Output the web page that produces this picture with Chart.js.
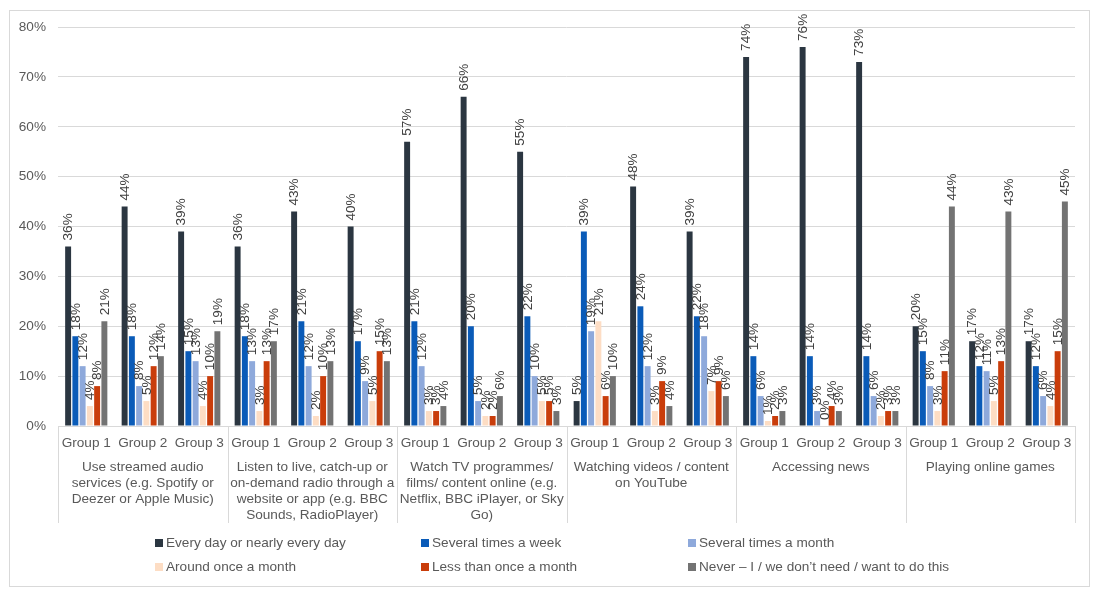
<!DOCTYPE html>
<html>
<head>
<meta charset="utf-8">
<script src="https://cdn.jsdelivr.net/npm/chart.js@4"></script>
<style>
html,body{margin:0;padding:0;background:#fff;}
#wrap{width:1097px;height:594px;position:relative;}
</style>
</head>
<body>
<div id="wrap"><canvas id="c" width="1097" height="594"></canvas></div>
<script>
const groupLabels = ["Group 1", "Group 2", "Group 3"];
const activities = [
  ["Use streamed audio", "services (e.g. Spotify or", "Deezer or Apple Music)"],
  ["Listen to live, catch-up or", "on-demand radio through a", "website or app (e.g. BBC", "Sounds, RadioPlayer)"],
  ["Watch TV programmes/", "films/ content online (e.g.", "Netflix, BBC iPlayer, or Sky", "Go)"],
  ["Watching videos / content", "on YouTube"],
  ["Accessing news"],
  ["Playing online games"]
];
const seriesNames = [
  "Every day or nearly every day",
  "Several times a week",
  "Several times a month",
  "Around once a month",
  "Less than once a month",
  "Never \u2013 I / we don\u2019t need / want to do this"
];
// values per category (activity x group), in order of categories
const everyDay     = [36, 44, 39, 36, 43, 40, 57, 66, 55, 5, 48, 39, 74, 76, 73, 20, 17, 17];
const severalWeek  = [18, 18, 15, 18, 21, 17, 21, 20, 22, 39, 24, 22, 14, 14, 14, 15, 12, 12];
const severalMonth = [12, 8, 13, 13, 12, 9, 12, 5, 10, 19, 12, 18, 6, 3, 6, 8, 11, 6];
const onceMonth    = [4, 5, 4, 3, 2, 5, 3, 2, 5, 21, 3, 7, 1, 0, 2, 3, 5, 4];
const lessMonth    = [8, 12, 10, 13, 10, 15, 3, 2, 5, 6, 9, 9, 2, 4, 3, 11, 13, 15];
const never        = [21, 14, 19, 17, 13, 13, 4, 6, 3, 10, 4, 6, 3, 3, 3, 44, 43, 45];
const yTicks = [0, 10, 20, 30, 40, 50, 60, 70, 80];

const colors = ["#2B3641", "#0A5BB8", "#8EA9DB", "#FDDDC4", "#C93D0B", "#737373"];
const seriesValues = [everyDay, severalWeek, severalMonth, onceMonth, lessMonth, never];

const categories = [];
activities.forEach(() => groupLabels.forEach(g => categories.push(g)));

const FONT = "Liberation Sans, Arial, sans-serif";
const FS = 13.6;
const TXT = "#595959";

const bgPlugin = {
  id: 'bg',
  beforeDraw(chart) {
    const ctx = chart.ctx;
    ctx.save();
    ctx.fillStyle = '#fff';
    ctx.fillRect(0, 0, chart.width, chart.height);
    ctx.strokeStyle = '#d9d9d9';
    ctx.lineWidth = 1;
    ctx.strokeRect(9.5, 10.5, 1080, 576);
    ctx.restore();
  }
};

const decoPlugin = {
  id: 'deco',
  afterDatasetsDraw(chart) {
    const ctx = chart.ctx;
    ctx.save();
    ctx.font = FS + "px " + FONT;
    ctx.fillStyle = "#404040";
    ctx.textAlign = 'left';
    ctx.textBaseline = 'middle';
    chart.data.datasets.forEach((ds, di) => {
      const meta = chart.getDatasetMeta(di);
      meta.data.forEach((bar, i) => {
        const v = ds.data[i];
        ctx.save();
        ctx.translate(bar.x + 0.5, bar.y - 6);
        ctx.rotate(-Math.PI / 2);
        ctx.fillText(Math.round(v) + '%', 0, 0);
        ctx.restore();
      });
    });
    ctx.restore();
  },
  afterDraw(chart) {
    const ctx = chart.ctx;
    const xs = chart.scales.x;
    const area = chart.chartArea;
    ctx.save();
    ctx.strokeStyle = '#d9d9d9';
    ctx.lineWidth = 1;
    const bounds = [area.left];
    for (let g = 1; g < activities.length; g++) {
      const i = g * 3;
      bounds.push((xs.getPixelForValue(i - 1) + xs.getPixelForValue(i)) / 2);
    }
    bounds.push(area.right);
    bounds.forEach(b => {
      const x = Math.round(b) + 0.5;
      ctx.beginPath();
      ctx.moveTo(x, area.bottom);
      ctx.lineTo(x, 523);
      ctx.stroke();
    });
    ctx.font = FS + "px " + FONT;
    ctx.fillStyle = TXT;
    ctx.textAlign = 'center';
    ctx.textBaseline = 'middle';
    activities.forEach((lines, g) => {
      const cx = (xs.getPixelForValue(g * 3) + xs.getPixelForValue(g * 3 + 2)) / 2;
      lines.forEach((ln, k) => ctx.fillText(ln, cx, 467.5 + k * 16));
    });
    const colX = [155, 421, 688];
    const rowY = [543, 567];
    ctx.textAlign = 'left';
    seriesNames.forEach((name, i) => {
      const x = colX[i % 3], y = rowY[Math.floor(i / 3)];
      ctx.fillStyle = colors[i];
      ctx.fillRect(x, y - 4, 8, 8);
      ctx.fillStyle = TXT;
      ctx.fillText(name, x + 11, y);
    });
    ctx.restore();
  }
};

new Chart(document.getElementById('c'), {
  type: 'bar',
  data: {
    labels: categories,
    datasets: seriesNames.map((name, i) => ({
      label: name,
      data: seriesValues[i],
      backgroundColor: colors[i],
      borderWidth: 0,
      categoryPercentage: 0.77,
      barPercentage: 0.82
    }))
  },
  options: {
    responsive: false,
    animation: false,
    devicePixelRatio: 1,
    layout: { padding: { left: 10, right: 22, top: 27, bottom: 0 } },
    plugins: { legend: { display: false }, tooltip: { enabled: false } },
    scales: {
      x: {
        grid: { display: false, drawTicks: false },
        border: { display: true, color: '#d9d9d9' },
        ticks: { color: TXT, font: { size: FS, family: FONT }, padding: 9, maxRotation: 0, autoSkip: false },
        afterFit(s) { s.height = 168; }
      },
      y: {
        min: 0, max: 80,
        afterBuildTicks(s) { s.ticks = yTicks.map(v => ({ value: v })); },
        grid: { color: '#d9d9d9', drawTicks: false },
        border: { display: false },
        ticks: { color: TXT, font: { size: FS, family: FONT }, padding: 12, callback: v => v + '%' },
        afterFit(s) { s.width = 48; }
      }
    }
  },
  plugins: [bgPlugin, decoPlugin]
});
</script>
</body>
</html>
